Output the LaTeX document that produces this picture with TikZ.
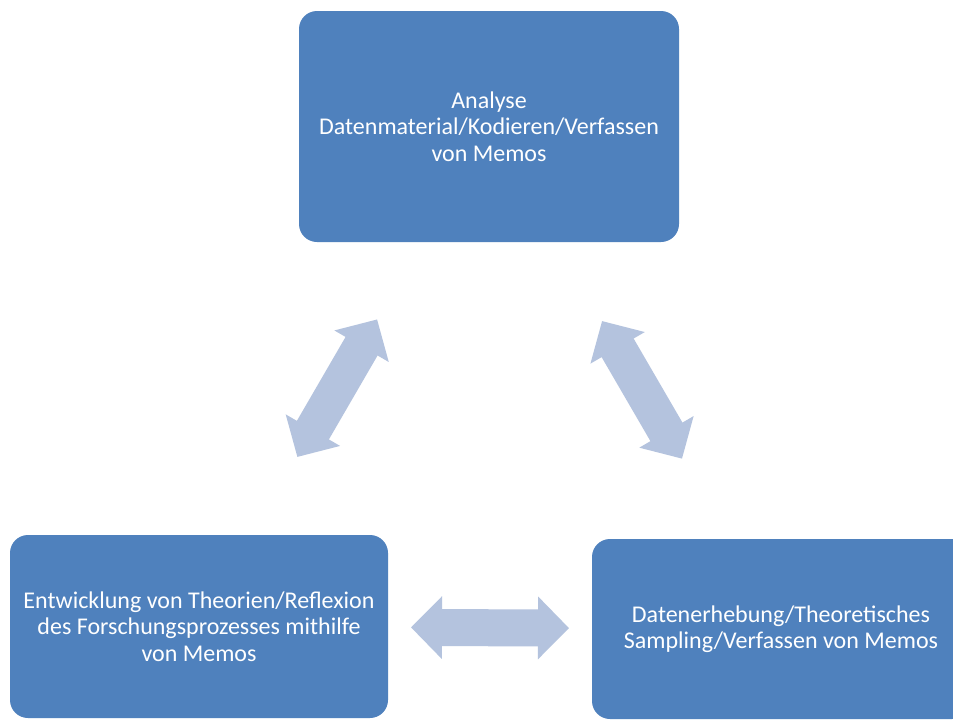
\documentclass[tikz,border=0pt]{standalone}
\usepackage{fontspec}
\setmainfont{Carlito}
\usetikzlibrary{arrows.meta}
\definecolor{boxblue}{HTML}{4F81BD}
\definecolor{arrowblue}{HTML}{B4C3DE}
\tikzset{
  stagebox/.style={rectangle, rounded corners=18pt, fill=boxblue, text=white,
    align=center, inner sep=0pt, font=\fontsize{24}{26.5}\selectfont},
  cyclearrow/.style={draw=arrowblue, line width=37pt,
    {Triangle[length=31pt,width=61pt]}-{Triangle[length=31pt,width=61pt]}}
}
\begin{document}
\begin{tikzpicture}[x=1pt,y=-1pt]
\clip (0,0) rectangle (953,720);
\fill[white] (0,0) rectangle (953,720);

% the three stages
\node[stagebox, minimum width=380pt, minimum height=231pt] (ana) at (489,126.5)
  {Analyse\\Datenmaterial/Kodieren/Verfassen\\von Memos};
\node[stagebox, minimum width=378pt, minimum height=183pt] (ent) at (199,626.5)
  {Entwicklung von Theorien/Reflexion\\des Forschungsprozesses mithilfe\\von Memos};
\node[stagebox, minimum width=378pt, minimum height=180pt] (erh) at (781,629)
  {Datenerhebung/Theoretisches\\Sampling/Verfassen von Memos};

% double arrows between them
\draw[cyclearrow, shorten <=196pt, shorten >=223pt] (ent.center) -- (ana.center);
\draw[cyclearrow, shorten <=225pt, shorten >=197pt] (ana.center) -- (erh.center);
\draw[cyclearrow, shorten <=212pt, shorten >=212pt] (ent.center) -- (erh.center);
\end{tikzpicture}
\end{document}
